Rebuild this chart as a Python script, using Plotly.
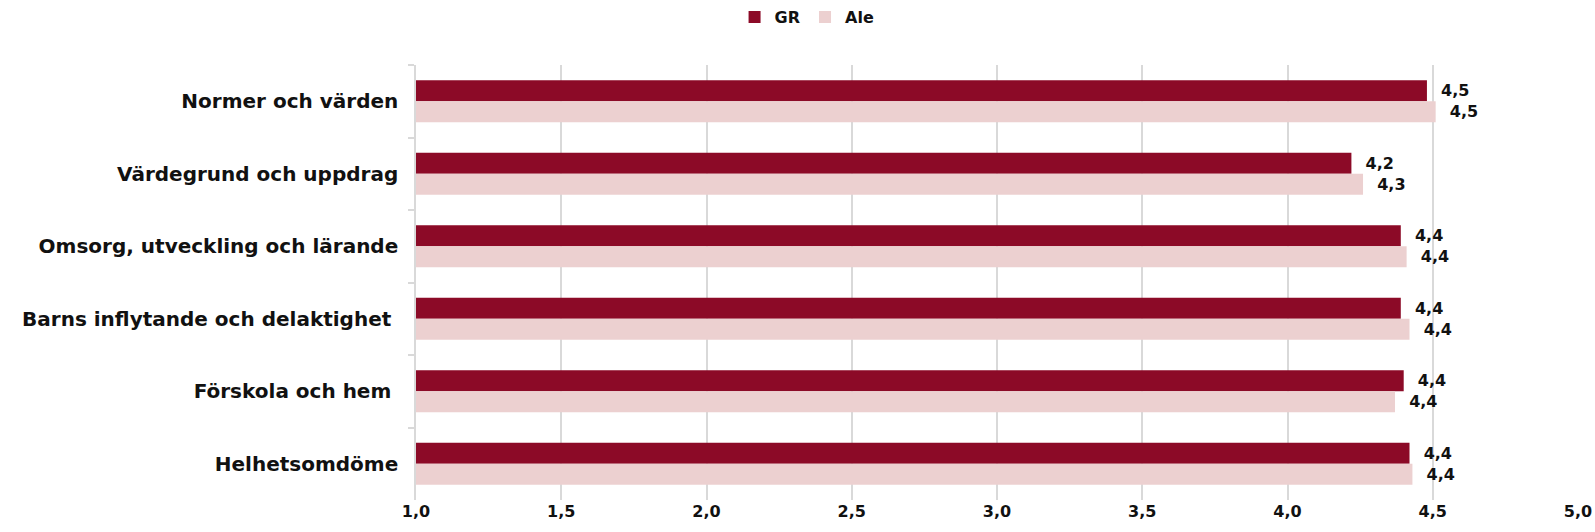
import plotly.graph_objects as go

categories = [
    "Normer och värden",
    "Värdegrund och uppdrag",
    "Omsorg, utveckling och lärande",
    "Barns inflytande och delaktighet\u00a0",
    "Förskola och hem\u00a0",
    "Helhetsomdöme",
]
gr_values = [4.48, 4.22, 4.39, 4.39, 4.40, 4.42]
ale_values = [4.51, 4.26, 4.41, 4.42, 4.37, 4.43]
x_ticks = [1.0, 1.5, 2.0, 2.5, 3.0, 3.5, 4.0, 4.5, 5.0]

FONT = "DejaVu Sans"
GR_COLOR = "#8C0A27"
ALE_COLOR = "#ECD0D0"
TXT = "#111111"

fig = go.Figure()
for name, vals, col in [("GR", gr_values, GR_COLOR), ("Ale", ale_values, ALE_COLOR)]:
    fig.add_trace(go.Bar(
        name=name, y=categories, x=vals, orientation="h",
        marker=dict(color=col, line=dict(width=0)),
        texttemplate="  %{x:.1f}", textposition="outside", cliponaxis=False,
        textfont=dict(family=FONT, size=16, color=TXT, weight="bold"),
    ))

fig.update_layout(
    width=1595, height=532,
    margin=dict(l=416, r=17, t=65, b=32, autoexpand=False),
    paper_bgcolor="white", plot_bgcolor="white",
    barmode="group", bargap=0.42, bargroupgap=0,
    separators=", ",
    font=dict(family=FONT, size=16, color=TXT, weight="bold"),
    legend=dict(
        orientation="h", x=0.506, xanchor="center", xref="container",
        y=1 - 17 / 532, yref="container", yanchor="middle",
        font=dict(family=FONT, size=16, color=TXT, weight="bold"),
        itemwidth=30, traceorder="normal", tracegroupgap=0,
    ),
    xaxis=dict(
        range=[1.0, 5.0], tickvals=x_ticks, tickformat=".1f", automargin=False,
        showgrid=True, gridcolor="#D9D9D9", gridwidth=1.5,
        zeroline=False, showline=False, ticks="",
        tickfont=dict(family=FONT, size=16, color=TXT, weight="bold"),
    ),
    yaxis=dict(
        autorange="reversed", automargin=False,
        showline=True, linecolor="#D9D9D9", linewidth=1.5,
        ticks="outside", tickson="boundaries", ticklen=6, tickcolor="#D9D9D9",
        tickwidth=1.5, showgrid=False, ticklabelstandoff=12,
        tickfont=dict(family=FONT, size=20, color=TXT, weight="bold"),
    ),
)

fig.write_html(
    "out.html",
    config={"displayModeBar": False},
    post_script="document.body.style.margin='0';document.body.style.overflow='hidden';",
)
